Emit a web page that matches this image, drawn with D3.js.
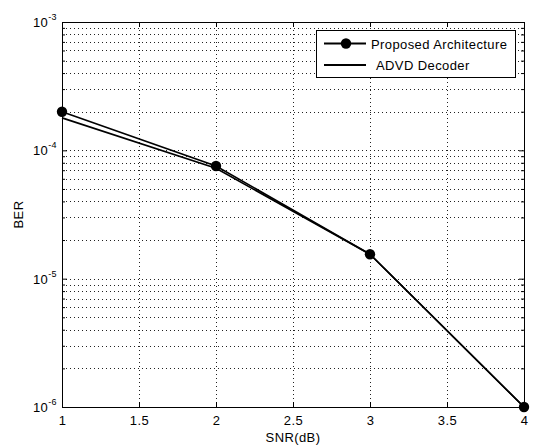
<!DOCTYPE html>
<html><head><meta charset="utf-8">
<script src="https://cdn.jsdelivr.net/npm/d3@7"></script>
<style>body{margin:0;background:#fff}svg{display:block}text{font-family:"Liberation Sans",Arial,sans-serif;fill:#000}</style>
</head><body><div id="chart"></div>
<script>
const snr = [1, 2, 3, 4];
const proposed = [2.0e-4, 7.55e-5, 1.55e-5, 1.0e-6];
const advd = [1.79e-4, 7.25e-5, 1.55e-5, 1.0e-6];
const xTicks = [1, 1.5, 2, 2.5, 3, 3.5, 4];
const yDecades = [-6, -5, -4, -3];
const seriesNames = ["Proposed Architecture", "ADVD Decoder"];

const W = 533, H = 448;
const m = {l: 62, r: 9, t: 22, b: 41};
const FS = 13, LS = "0.4px";
const svg = d3.select("#chart").append("svg").attr("width", W).attr("height", H);
const x = d3.scaleLinear().domain([1, 4]).range([m.l, W - m.r]);
const y = d3.scaleLog().domain([1e-6, 1e-3]).range([H - m.b, m.t]);

const g = svg.append("g");
const minor = [];
for (let k = -6; k < -3; k++) for (let j = 2; j <= 9; j++) minor.push(j * Math.pow(10, k));
const majorY = yDecades.map(d => Math.pow(10, d));

g.selectAll(".gx").data(xTicks.slice(1, -1)).join("line")
  .attr("x1", d => Math.round(x(d)) + 0.5).attr("x2", d => Math.round(x(d)) + 0.5).attr("y1", m.t).attr("y2", H - m.b)
  .attr("stroke", "#222").attr("stroke-width", 1).attr("stroke-dasharray", "1,3");
g.selectAll(".gy").data(minor.concat(majorY.slice(1, -1))).join("line")
  .attr("x1", m.l).attr("x2", W - m.r).attr("y1", d => Math.round(y(d)) + 0.5).attr("y2", d => Math.round(y(d)) + 0.5)
  .attr("stroke", "#222").attr("stroke-width", 1).attr("stroke-dasharray", "1,3");

const axB = d3.axisBottom(x).tickValues(xTicks).tickSizeInner(-5).tickSizeOuter(0).tickPadding(9).tickFormat(d3.format(""));
const axT = d3.axisTop(x).tickValues(xTicks).tickSizeInner(-5).tickSizeOuter(0).tickFormat("");
const axL = d3.axisLeft(y).tickValues(majorY).tickSizeInner(-5).tickSizeOuter(0).tickFormat("");
const axR = d3.axisRight(y).tickValues(majorY).tickSizeInner(-5).tickSizeOuter(0).tickFormat("");
const axLm = d3.axisLeft(y).tickValues(minor).tickSizeInner(-3).tickSizeOuter(0).tickFormat("");
const axRm = d3.axisRight(y).tickValues(minor).tickSizeInner(-3).tickSizeOuter(0).tickFormat("");
function styleAx(sel){ sel.selectAll("path,line").attr("stroke","#000"); sel.selectAll("text").attr("font-size",FS).attr("letter-spacing",LS).attr("font-family","Liberation Sans, Arial, sans-serif").attr("fill","#000"); }
styleAx(g.append("g").attr("transform", `translate(0,${H - m.b})`).call(axB));
styleAx(g.append("g").attr("transform", `translate(0,${m.t})`).call(axT));
styleAx(g.append("g").attr("transform", `translate(${m.l},0)`).call(axL));
styleAx(g.append("g").attr("transform", `translate(${W - m.r},0)`).call(axR));
styleAx(g.append("g").attr("transform", `translate(${m.l},0)`).call(axLm));
styleAx(g.append("g").attr("transform", `translate(${W - m.r},0)`).call(axRm));

yDecades.forEach(k => {
  const t = g.append("text").attr("x", m.l - 5).attr("y", y(Math.pow(10, k)) + 5).attr("text-anchor", "end").attr("font-size", FS).attr("letter-spacing", LS);
  t.append("tspan").text("10");
  t.append("tspan").attr("font-size", 9).attr("dy", -7).text(String(k));
});

const line = d3.line().x(d => x(d[0])).y(d => y(d[1]));
const pData = snr.map((s, i) => [s, proposed[i]]);
const aData = snr.map((s, i) => [s, advd[i]]);
g.append("path").datum(aData).attr("d", line).attr("fill", "none").attr("stroke", "#000").attr("stroke-width", 1.6);
g.append("path").datum(pData).attr("d", line).attr("fill", "none").attr("stroke", "#000").attr("stroke-width", 1.6);
g.selectAll(".pt").data(pData).join("circle").attr("cx", d => x(d[0])).attr("cy", d => y(d[1])).attr("r", 5.2).attr("fill", "#000");

svg.append("text").attr("x", (m.l + W - m.r) / 2).attr("y", 442).attr("text-anchor", "middle").attr("font-size", FS).attr("letter-spacing", LS).text("SNR(dB)");
svg.append("text").attr("transform", `translate(23,${(m.t + H - m.b) / 2}) rotate(-90)`).attr("text-anchor", "middle").attr("font-size", FS).attr("letter-spacing", LS).text("BER");

const lg = svg.append("g");
lg.append("rect").attr("x", 316.5).attr("y", 30.5).attr("width", 199).attr("height", 47).attr("fill", "#fff").attr("stroke", "#000");
const rows = [43.5, 65];
rows.forEach((ry, i) => {
  lg.append("line").attr("x1", 324).attr("x2", 366).attr("y1", ry).attr("y2", ry).attr("stroke", "#000").attr("stroke-width", 2);
  if (i === 0) lg.append("circle").attr("cx", 346).attr("cy", ry).attr("r", 5.2).attr("fill", "#000");
  lg.append("text").attr("x", i === 0 ? 371 : 376).attr("y", ry + 5).attr("font-size", FS).attr("letter-spacing", LS).text(seriesNames[i]);
});
</script></body></html>
